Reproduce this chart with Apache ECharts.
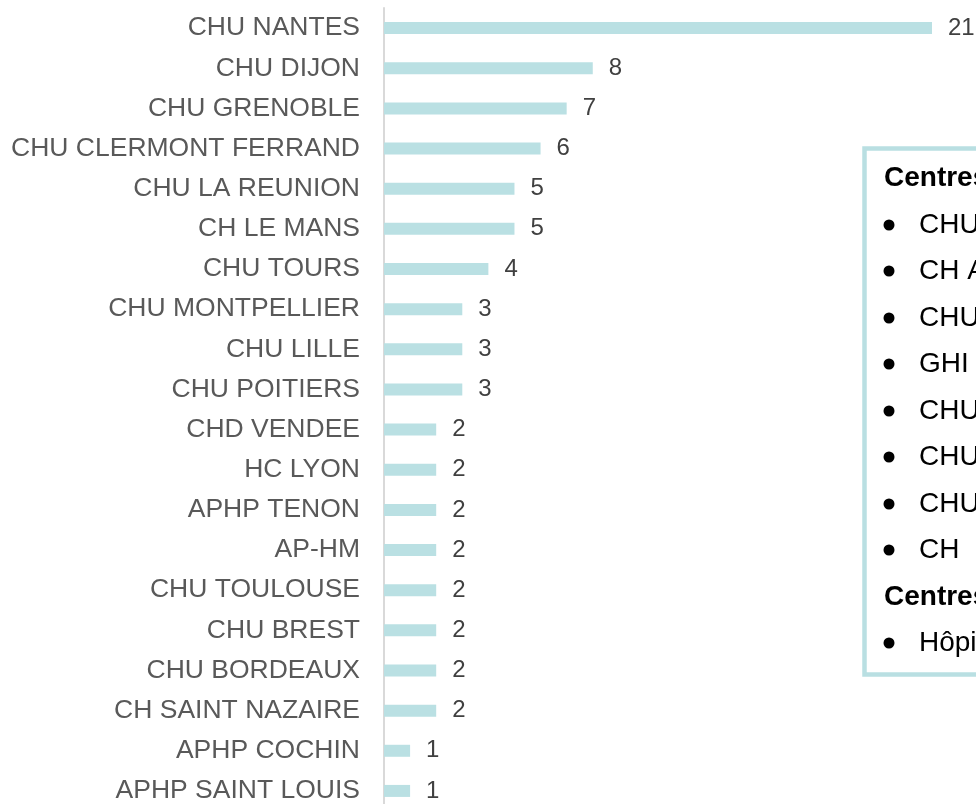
<!DOCTYPE html>
<html>
<head>
<meta charset="utf-8">
<script src="https://cdn.jsdelivr.net/npm/echarts@6/dist/echarts.min.js"></script>
<style>
  html, body { margin: 0; padding: 0; background: #fff; }
  #chart { width: 976px; height: 804px; }
</style>
</head>
<body>
<div id="chart"></div>
<script>
var centres = ['CHU NANTES', 'CHU DIJON', 'CHU GRENOBLE', 'CHU CLERMONT FERRAND', 'CHU LA REUNION',
  'CH LE MANS', 'CHU TOURS', 'CHU MONTPELLIER', 'CHU LILLE', 'CHU POITIERS', 'CHD VENDEE',
  'HC LYON', 'APHP TENON', 'AP-HM', 'CHU TOULOUSE', 'CHU BREST', 'CHU BORDEAUX',
  'CH SAINT NAZAIRE', 'APHP COCHIN', 'APHP SAINT LOUIS'];
var nombres = [21, 8, 7, 6, 5, 5, 4, 3, 3, 3, 2, 2, 2, 2, 2, 2, 2, 2, 1, 1];

// encadré de droite (coupé par le bord de l'image)
var encadreTextes = ['Centres', 'CHU', 'CH A', 'CHU', 'GHI', 'CHU', 'CHU', 'CHU', 'CH', 'Centres', 'Hôpital'];
var encadreTitres = [true, false, false, false, false, false, false, false, false, true, false];

var chart = echarts.init(document.getElementById('chart'));

var graphics = [{
  type: 'rect',
  shape: { x: 864.5, y: 148.5, width: 160, height: 526 },
  style: { fill: '#fff', stroke: '#b9dfe2', lineWidth: 4.5 },
  z: 10
}];
var rowsY = [178, 225, 271, 318, 364, 411, 457, 504, 550, 597, 643];
encadreTextes.forEach(function (t, i) {
  var titre = encadreTitres[i];
  graphics.push({
    type: 'text', x: titre ? 884 : 919, y: rowsY[i], z: 11,
    style: {
      text: t, fill: '#000', fontFamily: 'Liberation Sans, Arial, sans-serif',
      fontSize: 28, fontWeight: titre ? 'bold' : 'normal',
      verticalAlign: 'middle'
    }
  });
  if (!titre) {
    graphics.push({
      type: 'circle', z: 11,
      shape: { cx: 889, cy: rowsY[i], r: 5.5 },
      style: { fill: '#000' }
    });
  }
});

var option = {
  animation: false,
  backgroundColor: '#fff',
  grid: {
    left: 384, right: 44, top: 8, height: 803,
    containLabel: false, outerBoundsMode: 'none'
  },
  xAxis: {
    type: 'value', min: 0, max: 21,
    show: false
  },
  yAxis: {
    type: 'category',
    data: centres,
    inverse: true,
    axisLine: { show: true, lineStyle: { color: '#d9d9d9', width: 2 } },
    axisTick: { show: false },
    axisLabel: {
      margin: 24, color: '#595959', fontSize: 26.5,
      fontFamily: 'Liberation Sans, Arial, sans-serif'
    }
  },
  series: [{
    type: 'bar',
    data: nombres,
    barWidth: 12,
    itemStyle: { color: '#bae0e3' },
    label: {
      show: true, position: 'right', distance: 16,
      color: '#404040', fontSize: 24,
      fontFamily: 'Liberation Sans, Arial, sans-serif'
    }
  }],
  graphic: graphics
};
chart.setOption(option);
</script>
</body>
</html>
